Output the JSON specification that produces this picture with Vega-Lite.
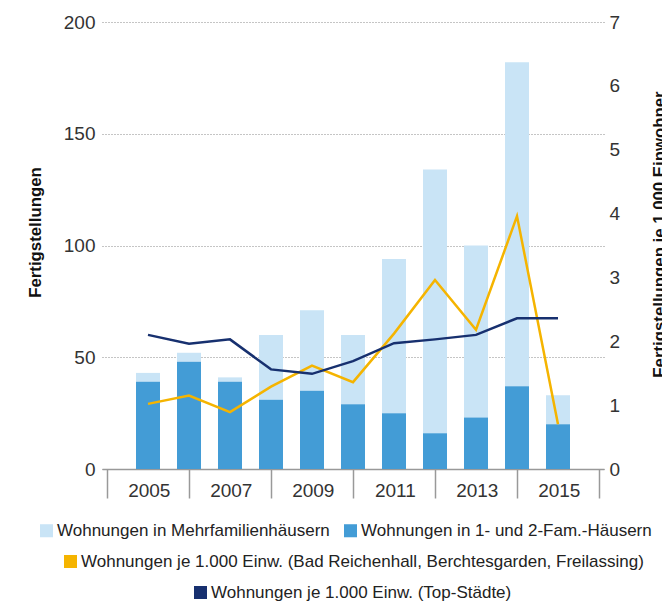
{
  "$schema": "https://vega.github.io/schema/vega-lite/v6.json",
  "width": 502,
  "height": 447,
  "autosize": {"type": "none"},
  "padding": {"left": 102, "top": 22, "right": 58, "bottom": 138},
  "background": "white",
  "datasets": {
    "bars": [
      {"year": 2005, "type": "Wohnungen in Mehrfamilienhäusern", "value": 4},
      {"year": 2005, "type": "Wohnungen in 1- und 2-Fam.-Häusern", "value": 39},
      {"year": 2006, "type": "Wohnungen in Mehrfamilienhäusern", "value": 4},
      {"year": 2006, "type": "Wohnungen in 1- und 2-Fam.-Häusern", "value": 48},
      {"year": 2007, "type": "Wohnungen in Mehrfamilienhäusern", "value": 2},
      {"year": 2007, "type": "Wohnungen in 1- und 2-Fam.-Häusern", "value": 39},
      {"year": 2008, "type": "Wohnungen in Mehrfamilienhäusern", "value": 29},
      {"year": 2008, "type": "Wohnungen in 1- und 2-Fam.-Häusern", "value": 31},
      {"year": 2009, "type": "Wohnungen in Mehrfamilienhäusern", "value": 36},
      {"year": 2009, "type": "Wohnungen in 1- und 2-Fam.-Häusern", "value": 35},
      {"year": 2010, "type": "Wohnungen in Mehrfamilienhäusern", "value": 31},
      {"year": 2010, "type": "Wohnungen in 1- und 2-Fam.-Häusern", "value": 29},
      {"year": 2011, "type": "Wohnungen in Mehrfamilienhäusern", "value": 69},
      {"year": 2011, "type": "Wohnungen in 1- und 2-Fam.-Häusern", "value": 25},
      {"year": 2012, "type": "Wohnungen in Mehrfamilienhäusern", "value": 118},
      {"year": 2012, "type": "Wohnungen in 1- und 2-Fam.-Häusern", "value": 16},
      {"year": 2013, "type": "Wohnungen in Mehrfamilienhäusern", "value": 77},
      {"year": 2013, "type": "Wohnungen in 1- und 2-Fam.-Häusern", "value": 23},
      {"year": 2014, "type": "Wohnungen in Mehrfamilienhäusern", "value": 145},
      {"year": 2014, "type": "Wohnungen in 1- und 2-Fam.-Häusern", "value": 37},
      {"year": 2015, "type": "Wohnungen in Mehrfamilienhäusern", "value": 13},
      {"year": 2015, "type": "Wohnungen in 1- und 2-Fam.-Häusern", "value": 20}
    ],
    "lines": [
      {"year": 2005, "bgl": 1.02, "top": 2.10},
      {"year": 2006, "bgl": 1.15, "top": 1.96},
      {"year": 2007, "bgl": 0.89, "top": 2.03},
      {"year": 2008, "bgl": 1.29, "top": 1.56},
      {"year": 2009, "bgl": 1.62, "top": 1.49},
      {"year": 2010, "bgl": 1.36, "top": 1.69},
      {"year": 2011, "bgl": 2.12, "top": 1.97},
      {"year": 2012, "bgl": 2.96, "top": 2.03},
      {"year": 2013, "bgl": 2.18, "top": 2.10},
      {"year": 2014, "bgl": 3.96, "top": 2.36},
      {"year": 2015, "bgl": 0.70, "top": 2.36}
    ]
  },
  "config": {
    "view": {"stroke": null},
    "font": "Liberation Sans",
    "axis": {
      "labelFont": "Liberation Sans",
      "labelFontSize": 19,
      "labelColor": "#333333",
      "titleFont": "Liberation Sans",
      "titleFontSize": 16.8,
      "titleFontWeight": "bold",
      "titleColor": "#111111"
    },
    "legend": {
      "orient": "none",
      "labelFont": "Liberation Sans",
      "labelFontSize": 17,
      "labelColor": "#222222",
      "labelLimit": 0,
      "labelOffset": 2,
      "symbolType": "square",
      "symbolSize": 170,
      "symbolStrokeWidth": 0
    }
  },
  "encoding": {
    "x": {
      "field": "year",
      "type": "quantitative",
      "scale": {"domain": [2004, 2016], "nice": false, "zero": false},
      "axis": {
        "title": null,
        "values": [2004, 2006, 2008, 2010, 2012, 2014, 2016],
        "grid": false,
        "domain": true,
        "domainColor": "#999999",
        "domainWidth": 1.5,
        "ticks": true,
        "tickSize": 29,
        "tickColor": "#999999",
        "tickWidth": 1.5,
        "labelOffset": 41.8,
        "labelPadding": -17,
        "labelFlush": false,
        "labelOverlap": false,
        "labelBound": false,
        "labelExpr": "datum.value < 2016 ? '' + (datum.value + 1) : ''"
      }
    }
  },
  "layer": [
    {
      "data": {"name": "bars"},
      "mark": {"type": "bar", "width": 24},
      "encoding": {
        "y": {
          "field": "value",
          "type": "quantitative",
          "stack": "zero",
          "scale": {"domain": [0, 200], "nice": false},
          "axis": {
            "title": "Fertigstellungen",
            "values": [0, 50, 100, 150, 200],
            "grid": true,
            "gridColor": "#8a8a8a",
            "gridDash": [1, 2],
            "gridWidth": 1,
            "domain": false,
            "ticks": false,
            "labelPadding": 7,
            "titleAngle": -90,
            "titleX": -67,
            "titleY": 210,
            "titleBaseline": "middle",
            "titleAlign": "center"
          }
        },
        "color": {
          "field": "type",
          "type": "nominal",
          "scale": {
            "domain": ["Wohnungen in Mehrfamilienhäusern", "Wohnungen in 1- und 2-Fam.-Häusern"],
            "range": ["#C9E4F6", "#439CD6"]
          },
          "legend": {
            "title": null,
            "orient": "none",
            "direction": "horizontal",
            "legendX": -64,
            "legendY": 500,
            "columnPadding": 12
          }
        },
        "order": {"field": "type", "sort": "ascending"}
      }
    },
    {
      "data": {"name": "lines"},
      "layer": [
        {
          "mark": {"type": "line", "strokeWidth": 2.5},
          "encoding": {
            "y": {
              "field": "bgl",
              "type": "quantitative",
              "scale": {"domain": [0, 7], "nice": false},
              "axis": {
                "orient": "right",
                "title": "Fertigstellungen je 1.000 Einwohner",
                "values": [0, 1, 2, 3, 4, 5, 6, 7],
                "grid": false,
                "domain": false,
                "ticks": false,
                "labelPadding": 5,
                "titleAngle": -90,
                "titleX": 55,
                "titleY": 212,
                "titleBaseline": "middle",
                "titleAlign": "center"
              }
            },
            "color": {
              "datum": "Wohnungen je 1.000 Einw. (Bad Reichenhall, Berchtesgarden, Freilassing)",
              "scale": {"range": ["#F5B400"]},
              "legend": {
                "title": null,
                "orient": "none",
                "legendX": -40,
                "legendY": 531,
                "symbolType": "square",
                "encode": {"symbols": {"update": {"fill": {"value": "#F5B400"}, "strokeWidth": {"value": 0}}}}
              }
            }
          }
        },
        {
          "mark": {"type": "line", "strokeWidth": 2.5},
          "encoding": {
            "y": {
              "field": "top",
              "type": "quantitative",
              "scale": {"domain": [0, 7], "nice": false},
              "axis": {
                "orient": "right",
                "title": "Fertigstellungen je 1.000 Einwohner",
                "values": [0, 1, 2, 3, 4, 5, 6, 7],
                "grid": false,
                "domain": false,
                "ticks": false,
                "labelPadding": 5,
                "titleAngle": -90,
                "titleX": 55,
                "titleY": 212,
                "titleBaseline": "middle",
                "titleAlign": "center"
              }
            },
            "color": {
              "datum": "Wohnungen je 1.000 Einw. (Top-Städte)",
              "scale": {"range": ["#17306F"]},
              "legend": {
                "title": null,
                "orient": "none",
                "legendX": 90,
                "legendY": 562,
                "symbolType": "square",
                "encode": {"symbols": {"update": {"fill": {"value": "#17306F"}, "strokeWidth": {"value": 0}}}}
              }
            }
          }
        }
      ],
      "resolve": {"scale": {"color": "independent"}}
    }
  ],
  "resolve": {"scale": {"y": "independent", "color": "independent"}}
}
